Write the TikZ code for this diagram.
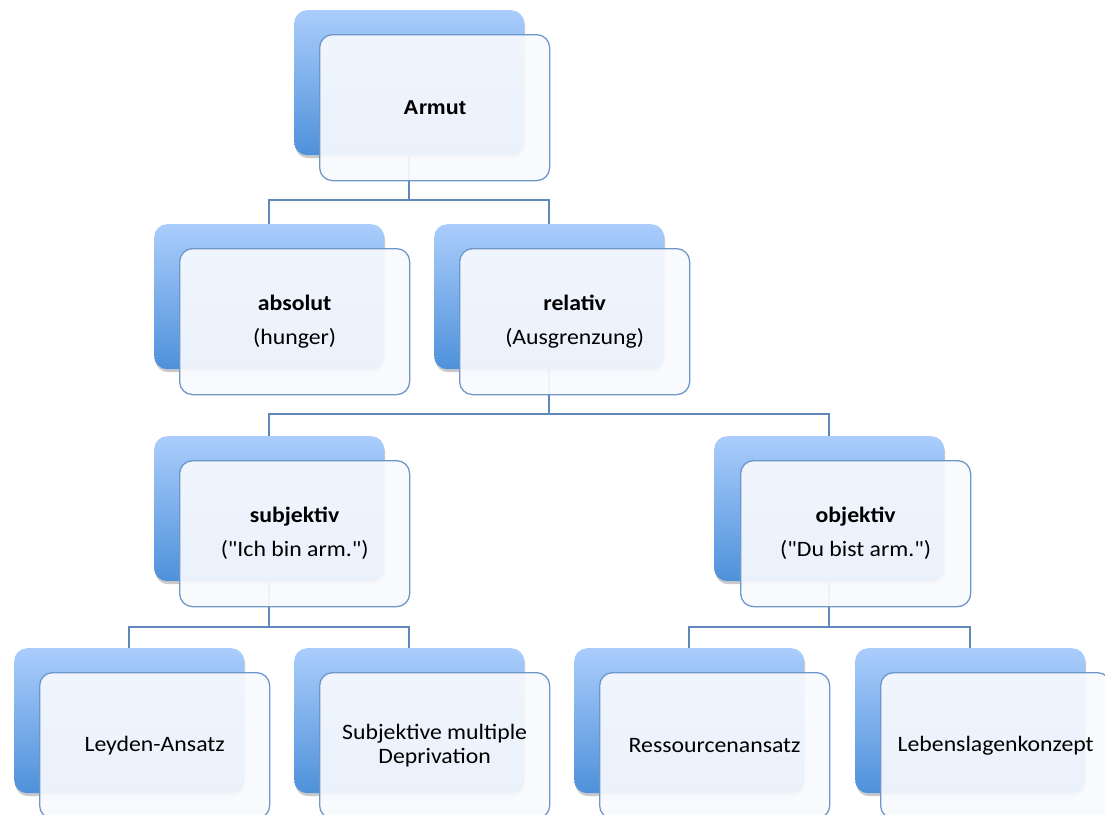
\documentclass[tikz,border=0pt]{standalone}
\usepackage{fontspec}
\setmainfont{Carlito}[FakeStretch=1.08, Ligatures=TeXOff]
\newfontfamily\armutfont{Liberation Sans}[FakeStretch=1.06]
\usetikzlibrary{shadows}
\definecolor{backtop}{RGB}{170,205,252}
\definecolor{backbot}{RGB}{78,145,218}
\definecolor{frontborder}{RGB}{110,150,200}
\definecolor{frontfill}{RGB}{248,250,254}
\definecolor{linkcol}{RGB}{95,135,185}
\tikzset{
  backbox/.style={rounded corners=13pt, minimum width=230pt, minimum height=145pt,
    top color=backtop, bottom color=backbot, draw=none, inner sep=0pt,
    drop shadow={shadow xshift=1pt, shadow yshift=-3pt, opacity=0.35, fill=black!60}},
  frontbox/.style={rounded corners=13pt, minimum width=230pt, minimum height=146pt,
    fill=frontfill, fill opacity=0.92, draw=frontborder, line width=1.3pt, inner sep=0pt,
    text opacity=1, align=center, font=\fontsize{22}{25}\selectfont},
  link/.style={draw=linkcol, line width=1.7pt},
}
\begin{document}
\begin{tikzpicture}[x=1pt,y=-1pt]
\useasboundingbox (0,0) rectangle (1105,814);
% ---- level 1
\node[backbox, anchor=north west] (b1) at (294,10) {};
% ---- level 2
\node[backbox, anchor=north west] (b2) at (154,224) {};
\node[backbox, anchor=north west] (b3) at (434,224) {};
% ---- level 3
\node[backbox, anchor=north west] (b4) at (154,436) {};
\node[backbox, anchor=north west] (b5) at (714,436) {};
% ---- level 4
\node[backbox, anchor=north west] (b6) at (14,648) {};
\node[backbox, anchor=north west] (b7) at (294,648) {};
\node[backbox, anchor=north west] (b8) at (574,648) {};
\node[backbox, anchor=north west] (b9) at (855,648) {};
% junction coordinates
\coordinate (j1) at (b1.south |- 0,200);
\coordinate (j2) at (b3.south |- 0,414);
\coordinate (j3) at (b4.south |- 0,627);
\coordinate (j4) at (b5.south |- 0,627);
% connectors
\draw[link] (b1.south) -- (j1) -| (b2.north);
\draw[link] (j1) -| (b3.north);
\draw[link] (b3.south) -- (j2) -| (b4.north);
\draw[link] (j2) -| (b5.north);
\draw[link] (b4.south) -- (j3) -| (b6.north);
\draw[link] (j3) -| (b7.north);
\draw[link] (b5.south) -- (j4) -| (b8.north);
\draw[link] (j4) -| (b9.north);
% front boxes
\node[frontbox, anchor=north west] (f1) at (319,34) {\armutfont\bfseries\fontsize{20}{24}\selectfont Armut};
\node[frontbox, anchor=north west] (f2) at (179,248) {\textbf{absolut}\\[9pt](hunger)};
\node[frontbox, anchor=north west] (f3) at (459,248) {\textbf{relativ}\\[9pt](Ausgrenzung)};
\node[frontbox, anchor=north west] (f4) at (179,460) {\textbf{subjektiv}\\[9pt]("Ich bin arm.")};
\node[frontbox, anchor=north west] (f5) at (740,460) {\textbf{objektiv}\\[9pt]("Du bist arm.")};
\node[frontbox, anchor=north west] (f6) at (39,672) {Leyden-Ansatz};
\node[frontbox, anchor=north west] (f7) at (319,672) {Subjektive multiple\\[-1pt]Deprivation};
\node[frontbox, anchor=north west] (f8) at (599,672) {Ressourcenansatz};
\node[frontbox, anchor=north west] (f9) at (880,672) {Lebenslagenkonzept};
\end{tikzpicture}
\end{document}
